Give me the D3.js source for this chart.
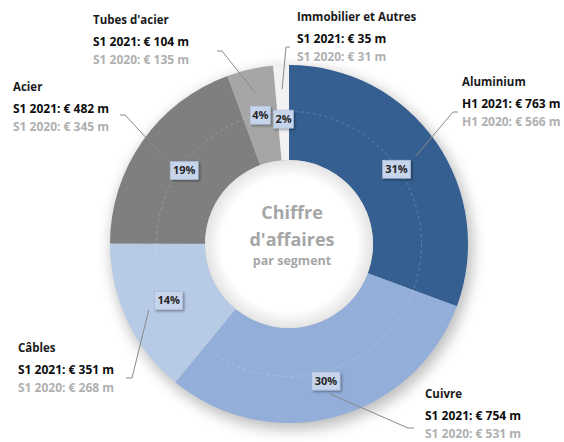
<!DOCTYPE html>
<html>
<head>
<meta charset="utf-8">
<script src="https://cdn.jsdelivr.net/npm/d3@7"></script>
<style>
  body { margin: 0; background: #fff; }
  svg text { font-family: "Open Sans", "Noto Sans", sans-serif; font-weight: 700; }
</style>
</head>
<body>
<svg id="chart" width="564" height="442"></svg>
<script>
// --- data ---
const segments = ["Aluminium", "Cuivre", "Câbles", "Acier", "Tubes d'acier", "Immobilier et Autres"]
const periodPrefix = ["H1", "S1", "S1", "S1", "S1", "S1"]
const sales2021 = [763, 754, 351, 482, 104, 35]
const sales2020 = [566, 531, 268, 345, 135, 31]
const pctLabels = ["31%", "30%", "14%", "19%", "4%", "2%"]
const sliceColors = ["#355f91", "#92aed9", "#b7cae6", "#7f7f7f", "#a6a6a6", "#f2f2f2"]
const centerLines = ["Chiffre", "d'affaires", "par segment"]

// label placement: text x, title baseline, elbow point of leader, stub direction
const labelLayout = [
    { x: 462, y: 86, elbow: [453, 112], stub: 5 },
    { x: 425, y: 398, elbow: [408, 428], stub: 6 },
    { x: 18, y: 352, elbow: [132, 378], stub: -6 },
    { x: 13, y: 91, elbow: [125, 115], stub: -5 },
    { x: 93, y: 24, elbow: [222, 51], stub: -5 },
    { x: 297, y: 21, elbow: [286, 47], stub: 4 }
]
// radius of the percentage box for each slice
const boxRadius = [131, 142, 133, 128, 132, 125]

const svg = d3.select("#chart")
const cx = 289, cy = 244
const rInner = 84, rOuter = 179

const defs = svg.append("defs")

let shadow = defs.append("filter").attr("id", "shadow")
    .attr("x", "-20%").attr("y", "-20%").attr("width", "140%").attr("height", "140%")
shadow.append("feGaussianBlur").attr("stdDeviation", 7)

let boxShadow = defs.append("filter").attr("id", "boxShadow")
    .attr("x", "-30%").attr("y", "-30%").attr("width", "170%").attr("height", "190%")
boxShadow.append("feDropShadow").attr("dx", 1.5).attr("dy", 1.5)
    .attr("stdDeviation", 1.2).attr("flood-color", "#000").attr("flood-opacity", 0.35)

let hole = defs.append("radialGradient").attr("id", "holeGrad")
hole.append("stop").attr("offset", "80%").attr("stop-color", "#ffffff")
hole.append("stop").attr("offset", "100%").attr("stop-color", "#e4e4e4")

let g = svg.append("g").attr("transform", `translate(${cx},${cy})`)

// soft shadow under the ring
g.append("circle")
    .attr("cx", 3).attr("cy", 5).attr("r", rOuter + 2)
    .attr("fill", "#000").attr("opacity", 0.25)
    .attr("filter", "url(#shadow)")

let pie = d3.pie().sort(null).value(d => d)
let arcs = pie(sales2021)

let arc = d3.arc().innerRadius(rInner).outerRadius(rOuter)
let leaderArc = d3.arc().innerRadius(155).outerRadius(155)

g.append("g").selectAll("path")
    .data(arcs)
    .enter()
        .append("path")
        .attr("d", arc)
        .attr("fill", (d, i) => sliceColors[i])

// faint dashed ring through the middle of the slices
g.append("circle")
    .attr("r", (rInner + rOuter) / 2 + 1)
    .attr("fill", "none")
    .attr("stroke", "#ffffff").attr("stroke-opacity", 0.25)
    .attr("stroke-width", 0.8).attr("stroke-dasharray", "3,3")

// hole
g.append("circle").attr("r", rInner).attr("fill", "url(#holeGrad)")

// leader lines
g.append("g").selectAll("polyline")
    .data(arcs)
    .enter()
        .append("polyline")
        .attr("fill", "none")
        .attr("stroke", "#8a8a8a")
        .attr("stroke-width", 1)
        .attr("points", function (d, i) {
            let p = leaderArc.centroid(d)
            let e = labelLayout[i].elbow
            let ex = e[0] - cx, ey = e[1] - cy
            return [p, [ex, ey], [ex + labelLayout[i].stub, ey]].map(q => q.join(",")).join(" ")
        })

// percentage boxes
let boxes = g.append("g").selectAll("g")
    .data(arcs)
    .enter()
        .append("g")
        .attr("transform", (d, i) => `translate(${d3.arc().innerRadius(boxRadius[i]).outerRadius(boxRadius[i]).centroid(d)})`)

boxes.append("rect")
    .attr("x", (d, i) => pctLabels[i].length > 2 ? -14 : -10)
    .attr("y", -9)
    .attr("width", (d, i) => pctLabels[i].length > 2 ? 28 : 20)
    .attr("height", 18)
    .attr("fill", "#c6d5ec")
    .attr("stroke", "#a9bcd8").attr("stroke-width", 0.6)
    .attr("filter", "url(#boxShadow)")

boxes.append("text")
    .attr("text-anchor", "middle")
    .attr("dy", "0.35em")
    .attr("font-size", 11)
    .attr("fill", "#262626")
    .text((d, i) => pctLabels[i])

// segment labels
let labels = svg.append("g").selectAll("g")
    .data(segments)
    .enter()
        .append("g")
        .attr("transform", (d, i) => `translate(${labelLayout[i].x},${labelLayout[i].y})`)

labels.append("text")
    .attr("font-size", 11.5).attr("fill", "#1a1a1a")
    .text(d => d)

labels.append("text")
    .attr("y", 22).attr("font-size", 12).attr("fill", "#0d0d0d")
    .text((d, i) => `${periodPrefix[i]} 2021: € ${sales2021[i]} m`)

labels.append("text")
    .attr("y", 40).attr("font-size", 12).attr("fill", "#b0b0b0")
    .text((d, i) => `${periodPrefix[i]} 2020: € ${sales2020[i]} m`)

// centre title
let centre = svg.append("g").attr("transform", `translate(${cx + 3},${cy})`)
    .attr("text-anchor", "middle").attr("fill", "#a6a6a6")
centre.append("text").attr("y", -25).attr("font-size", 18).text(centerLines[0])
centre.append("text").attr("y", 2).attr("font-size", 18).text(centerLines[1])
centre.append("text").attr("y", 21).attr("font-size", 12.5).text(centerLines[2])
</script>
</body>
</html>
